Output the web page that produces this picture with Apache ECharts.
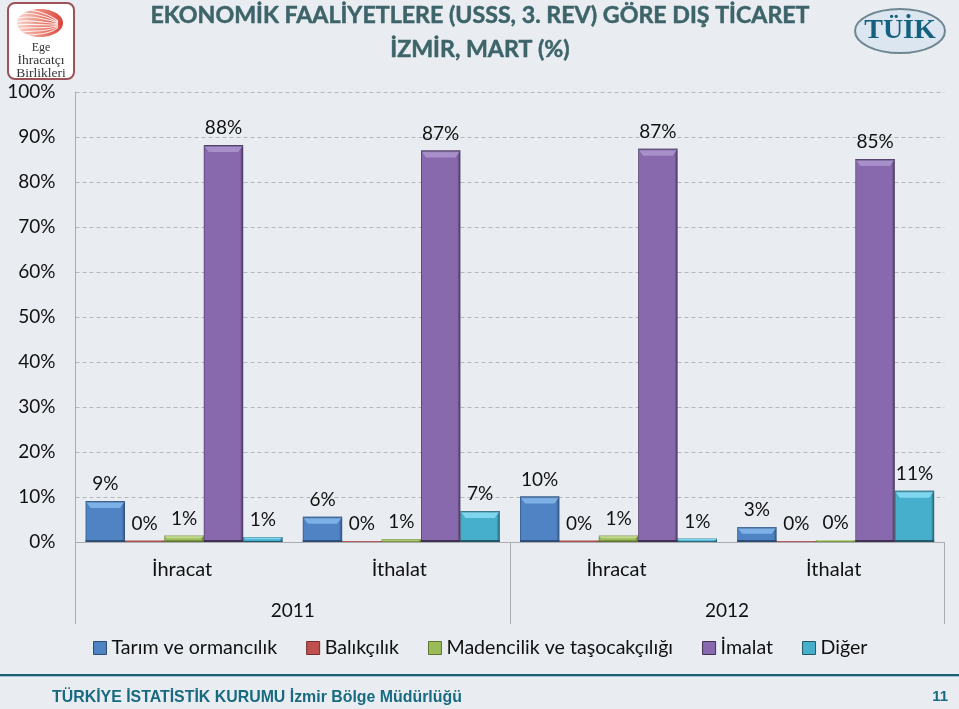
<!DOCTYPE html>
<html><head><meta charset="utf-8">
<style>html,body{margin:0;padding:0;background:#e9edf2}#c{width:959px;height:709px}</style>
<script src="https://cdn.jsdelivr.net/npm/echarts@6/dist/echarts.min.js"></script>
</head><body><div id="c"></div>
<script>
const categories = ['İhracat','İthalat','İhracat','İthalat'];
const years = ['2011','2012'];
const yTicks = [0,10,20,30,40,50,60,70,80,90,100];
const tarim = [9.1,5.6,10.1,3.3];
const balikcilik = [0.3,0.2,0.3,0.2];
const madencilik = [1.4,0.6,1.4,0.4];
const imalat = [88.2,87.0,87.4,85.1];
const diger = [1.1,6.9,0.7,11.4];
const seriesNames = ['Tarım ve ormancılık','Balıkçılık','Madencilik ve taşocakçılığı','İmalat','Diğer'];
const seriesValues = [tarim,balikcilik,madencilik,imalat,diger];
const titleLines = ['EKONOMİK FAALİYETLERE (USSS, 3. REV) GÖRE DIŞ TİCARET','İZMİR, MART (%)'];
const footer = 'TÜRKİYE İSTATİSTİK KURUMU İzmir Bölge Müdürlüğü';
const pageNo = '11';
const palette = [
 {mid:'#4f83c4',dark:'#2c4d75',light:'#7db0e6'},
 {mid:'#c0504d',dark:'#772c2a',light:'#de8583'},
 {mid:'#9bbb59',dark:'#5f7530',light:'#bdd68a'},
 {mid:'#8969ae',dark:'#403152',light:'#a78fc9'},
 {mid:'#45afcc',dark:'#215968',light:'#7fd6ee'}
];
const FONT='Lato';
const BAR=39.4;
const grad=p=>new echarts.graphic.LinearGradient(0,0,1,0,[
 {offset:0,color:p.dark},{offset:0.03,color:p.mid},{offset:0.92,color:p.mid},{offset:1,color:p.dark}]);
const series=seriesNames.map((n,i)=>({
 name:n,type:'bar',barWidth:BAR,barGap:0,data:seriesValues[i],z:3,
 itemStyle:{color:grad(palette[i])},
 label:{show:true,position:'top',distance:7.5,fontFamily:FONT,fontSize:19,color:'#111',
   formatter:p=>Math.round(p.value)+'%'}
}));
const bevelData=[];
seriesValues.forEach((vals,s)=>vals.forEach((v,c)=>bevelData.push([c,v,s])));
series.push({type:'custom',silent:true,z:4,legendHoverLink:false,data:bevelData,
 encode:{x:0,y:1},
 renderItem(params,api){
  const c=api.value(0),v=api.value(1),s=api.value(2);
  const top=api.coord([c,v]),base=api.coord([c,0]);
  const x0=top[0]+(s-2.5)*BAR,x1=x0+BAR,h=base[1]-top[1];
  const b=Math.min(7,h*0.45),p=palette[s],ins=Math.min(5,b);
  return {type:'group',children:[
   {type:'polygon',shape:{points:[[x0,top[1]],[x1,top[1]],[x1-ins,top[1]+b],[x0+ins,top[1]+b]]},
    style:{fill:new echarts.graphic.LinearGradient(0,0,0,1,[{offset:0,color:p.dark},{offset:0.3,color:p.light},{offset:1,color:p.light}])}},
   {type:'rect',shape:{x:x0,y:base[1]-Math.min(2,b/2),width:BAR,height:Math.min(2,b/2)},style:{fill:p.dark}}
  ]};
 }});
const swoosh=[];
[0,1,2,3,4,5,6,7].forEach(k=>{
 const y=11+k*3.6;
 swoosh.push({type:'bezierCurve',shape:{x1:16+Math.abs(k-4)*1.5,y1:y,x2:58,y2:21+k*0.9,cpx1:28,cpy1:y-3,cpx2:46,cpy2:y+1},
  style:{stroke:'#fff',lineWidth:1.1,fill:null,opacity:0.85}});
});
const titleStyle={font:'bold 23.2px '+FONT,fill:'#3d6469',stroke:'#3d6469',lineWidth:0.5,align:'center',verticalAlign:'middle',shadowBlur:3,shadowColor:'rgba(0,0,0,0.35)',shadowOffsetY:1};
const chart=echarts.init(document.getElementById('c'),null,{renderer:'canvas'});
chart.setOption({
 backgroundColor:'#e9edf2',animation:false,color:palette.map(p=>p.mid),
 textStyle:{fontFamily:FONT},
 grid:{left:75.5,right:14.7,top:92,bottom:167},
 legend:{left:93,top:638,padding:0,itemWidth:13,itemHeight:13,itemGap:29,
  data:seriesNames.map((n,i)=>({name:n,icon:'rect',itemStyle:{color:palette[i].mid,borderColor:palette[i].dark,borderWidth:1}})),
  textStyle:{fontFamily:FONT,fontSize:19.6,color:'#111'}},
 xAxis:[
  {type:'category',data:categories,position:'bottom',
   axisLine:{show:true,lineStyle:{color:'#a9adb2'}},axisTick:{show:false},
   axisLabel:{margin:18,padding:[0,4,0,0],fontFamily:FONT,fontSize:20,color:'#111',interval:0}},
  {type:'category',data:years,position:'bottom',
   axisLine:{show:false},axisTick:{show:true,length:82,lineStyle:{color:'#a9adb2'}},
   axisLabel:{margin:59,fontFamily:FONT,fontSize:19,color:'#111'}}
 ],
 yAxis:{type:'value',min:0,max:100,interval:10,
  axisLine:{show:true,lineStyle:{color:'#a9adb2'}},axisTick:{show:false},
  splitLine:{lineStyle:{type:[4,3],color:'#b4b8bd'}},
  axisLabel:{margin:20,fontFamily:FONT,fontSize:19,color:'#111',
   formatter:v=>yTicks.includes(v)?v+'%':''}},
 series,
 graphic:[
  {type:'text',x:480,y:16,style:{text:titleLines[0],...titleStyle}},
  {type:'text',x:480,y:50,style:{text:titleLines[1],...titleStyle}},
  {type:'rect',shape:{x:8,y:3,width:66,height:76,r:7},style:{fill:'#fff',stroke:'#9c5258',lineWidth:2}},
  {type:'ellipse',shape:{cx:40,cy:23,rx:23,ry:14},style:{fill:new echarts.graphic.LinearGradient(0,0,1,0,[{offset:0,color:'#f7d6cf'},{offset:0.55,color:'#ec8273'},{offset:1,color:'#d9443a'}])}},
  ...swoosh,
  {type:'text',x:41,y:48,style:{text:'Ege',font:'12px "Liberation Serif"',fill:'#333',align:'center',verticalAlign:'middle'}},
  {type:'text',x:41,y:60,style:{text:'İhracatçı',font:'13.5px "Liberation Serif"',fill:'#333',align:'center',verticalAlign:'middle'}},
  {type:'text',x:41,y:73,style:{text:'Birlikleri',font:'13.5px "Liberation Serif"',fill:'#333',align:'center',verticalAlign:'middle'}},
  {type:'ellipse',shape:{cx:900,cy:31,rx:45,ry:22},style:{fill:'#dbe6f0',stroke:'#6f8791',lineWidth:2}},
  {type:'text',x:900,y:31,style:{text:'TÜİK',font:'bold 28px "Liberation Serif"',fill:'#14607f',align:'center',verticalAlign:'middle'}},
  {type:'rect',shape:{x:0,y:674,width:959,height:2},style:{fill:'#1c5f73'}},
  {type:'rect',shape:{x:0,y:676,width:959,height:1},style:{fill:'#9cc3cf'}},
  {type:'text',x:52,y:698,style:{text:footer,font:'bold 15.9px "Liberation Sans"',fill:'#176a80',align:'left',verticalAlign:'middle'}},
  {type:'text',x:948,y:697,style:{text:pageNo,font:'bold 15px "Liberation Sans"',fill:'#176a80',align:'right',verticalAlign:'middle'}}
 ]
});
</script></body></html>
